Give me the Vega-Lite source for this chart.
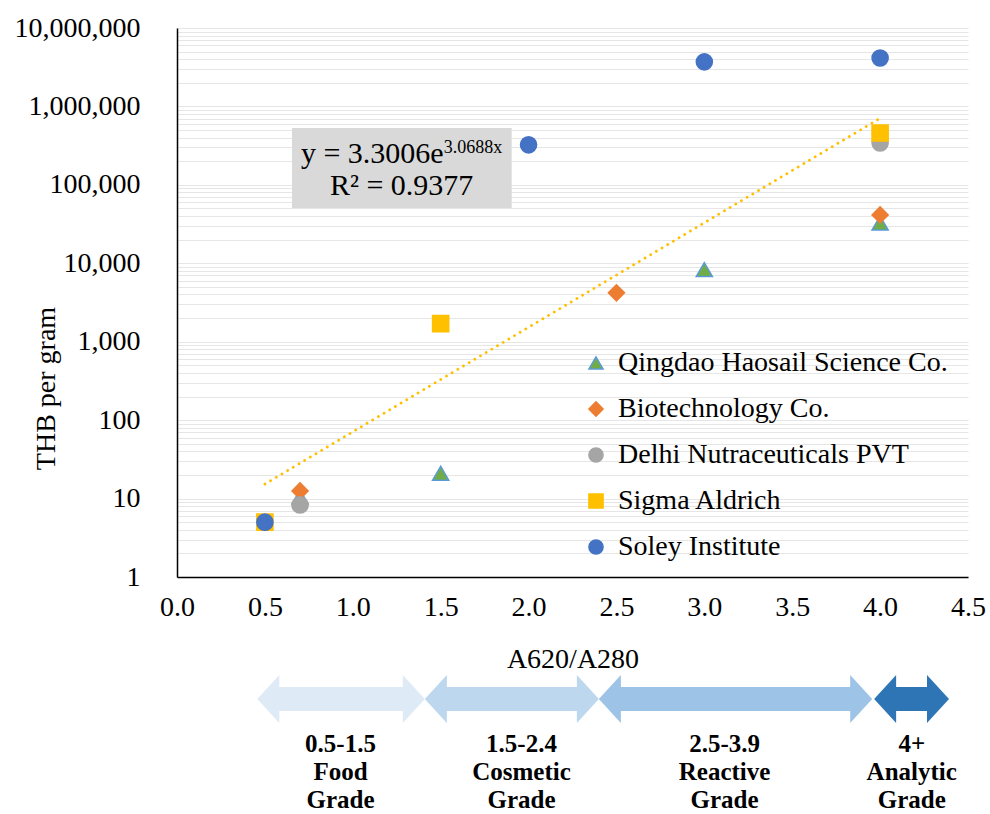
{
  "$schema": "https://vega.github.io/schema/vega-lite/v6.json",
  "padding": {"left": 14, "top": 14, "right": 5, "bottom": 0},
  "spacing": 0,
  "config": {
    "view": {"stroke": null},
    "font": "Liberation Serif",
    "axis": {"labelFont": "Liberation Serif", "titleFont": "Liberation Serif", "labelColor": "#000", "titleColor": "#000", "domainColor": "#000", "titleFontWeight": "normal"},
    "legend": {"labelFont": "Liberation Serif", "labelFontSize": 28, "labelColor": "#000", "symbolSize": 200, "rowPadding": 18, "labelLimit": 600, "padding": 0, "labelOffset": 8, "symbolStrokeWidth": 1.5}
  },
  "vconcat": [
    {
      "width": 791,
      "height": 549,
      "encoding": {
        "x": {"field": "x", "type": "quantitative",
          "scale": {"domain": [0, 4.5], "nice": false, "zero": false},
          "axis": {"title": "A620/A280", "titleFontSize": 28, "titlePadding": 24, "values": [0, 0.5, 1, 1.5, 2, 2.5, 3, 3.5, 4, 4.5], "format": ".1f", "labelFontSize": 28, "labelPadding": 16, "ticks": false, "grid": false, "domainWidth": 1.5, "labelFlush": false, "labelOverlap": false}},
        "y": {"field": "y", "type": "quantitative",
          "scale": {"type": "log", "domain": [1, 10000000], "nice": false},
          "axis": {"title": "THB per gram", "titleFontSize": 28, "titleX": -131, "titleY": 360, "titleBaseline": "middle",
            "values": [1,2,3,4,5,6,7,8,9,10,20,30,40,50,60,70,80,90,100,200,300,400,500,600,700,800,900,1000,2000,3000,4000,5000,6000,7000,8000,9000,10000,20000,30000,40000,50000,60000,70000,80000,90000,100000,200000,300000,400000,500000,600000,700000,800000,900000,1000000,2000000,3000000,4000000,5000000,6000000,7000000,8000000,9000000,10000000],
            "labelExpr": "indexof([1,10,100,1000,10000,100000,1000000,10000000], datum.value) >= 0 ? format(datum.value, ',') : ''",
            "labelFontSize": 28, "labelPadding": 37, "ticks": false, "grid": true, "gridColor": "#e6e6e6", "gridWidth": 1, "domainWidth": 1.5, "labelFlush": false, "labelOverlap": false}}
      },
      "layer": [
        {
          "data": {"values": [{"x": 0.654, "x2": 1.904, "y": 531000, "y2": 50700}]},
          "mark": {"type": "rect", "color": "#d9d9d9"},
          "encoding": {"x2": {"field": "x2"}, "y2": {"field": "y2"}}
        },
        {
          "data": {"values": [{"x": 0.5, "y": 15.3}, {"x": 4.0, "y": 707000}]},
          "mark": {"type": "line", "color": "#FFC000", "strokeWidth": 2.8, "strokeDash": [0.1, 6.5], "strokeCap": "round"},
          "encoding": {}
        },
        {
          "data": {"values": [
            {"series": "Qingdao Haosail Science Co.", "x": 0.7, "y": 10.5},
            {"series": "Qingdao Haosail Science Co.", "x": 1.5, "y": 21},
            {"series": "Qingdao Haosail Science Co.", "x": 3.0, "y": 8300},
            {"series": "Qingdao Haosail Science Co.", "x": 4.0, "y": 32500},
            {"series": "Biotechnology Co.", "x": 0.7, "y": 12.5},
            {"series": "Biotechnology Co.", "x": 2.5, "y": 4200},
            {"series": "Biotechnology Co.", "x": 4.0, "y": 41300},
            {"series": "Delhi Nutraceuticals PVT", "x": 0.7, "y": 8.3},
            {"series": "Delhi Nutraceuticals PVT", "x": 4.0, "y": 342000},
            {"series": "Sigma Aldrich", "x": 0.5, "y": 5},
            {"series": "Sigma Aldrich", "x": 1.5, "y": 1700},
            {"series": "Sigma Aldrich", "x": 4.0, "y": 458000},
            {"series": "Soley Institute", "x": 0.5, "y": 5},
            {"series": "Soley Institute", "x": 2.0, "y": 324000},
            {"series": "Soley Institute", "x": 3.0, "y": 3700000},
            {"series": "Soley Institute", "x": 4.0, "y": 4140000}
          ]},
          "mark": {"type": "point", "filled": true, "opacity": 1, "size": 260, "strokeWidth": 1.5},
          "encoding": {
            "fill": {"field": "series", "type": "nominal",
              "scale": {"domain": ["Qingdao Haosail Science Co.", "Biotechnology Co.", "Delhi Nutraceuticals PVT", "Sigma Aldrich", "Soley Institute"], "range": ["#70AD47", "#ED7D31", "#A5A5A5", "#FFC000", "#4472C4"]},
              "legend": {"title": null, "orient": "none", "legendX": 405, "legendY": 321}},
            "stroke": {"field": "series", "type": "nominal",
              "scale": {"domain": ["Qingdao Haosail Science Co.", "Biotechnology Co.", "Delhi Nutraceuticals PVT", "Sigma Aldrich", "Soley Institute"], "range": ["#5B9BD5", "#ED7D31", "#A5A5A5", "#FFC000", "#4472C4"]},
              "legend": {"title": null, "orient": "none", "legendX": 405, "legendY": 321}},
            "shape": {"field": "series", "type": "nominal",
              "scale": {"domain": ["Qingdao Haosail Science Co.", "Biotechnology Co.", "Delhi Nutraceuticals PVT", "Sigma Aldrich", "Soley Institute"], "range": ["triangle-up", "diamond", "circle", "square", "circle"]},
              "legend": {"title": null, "orient": "none", "legendX": 405, "legendY": 321}}
          }
        },
        {
          "data": {"values": [{"x": 1.517, "y": 190000, "t": "y = 3.3006e"}]},
          "mark": {"type": "text", "fontSize": 30, "align": "right", "baseline": "alphabetic", "color": "#000", "font": "Liberation Serif"},
          "encoding": {"text": {"field": "t"}}
        },
        {
          "data": {"values": [{"x": 1.517, "y": 190000, "t": "3.0688x"}]},
          "mark": {"type": "text", "fontSize": 18, "align": "left", "baseline": "alphabetic", "dy": -10, "color": "#000", "font": "Liberation Serif"},
          "encoding": {"text": {"field": "t"}}
        },
        {
          "data": {"values": [{"x": 1.278, "y": 74300, "t": "R² = 0.9377"}]},
          "mark": {"type": "text", "fontSize": 30, "align": "center", "baseline": "alphabetic", "color": "#000", "font": "Liberation Serif"},
          "encoding": {"text": {"field": "t"}}
        }
      ]
    },
    {
      "width": 791,
      "height": 130,
      "data": {"values": [
        {"grade": "Food", "start": 0.457, "end": 1.41, "mid": 0.93, "label": "0.5-1.5\nFood\nGrade"},
        {"grade": "Cosmetic", "start": 1.41, "end": 2.40, "mid": 1.96, "label": "1.5-2.4\nCosmetic\nGrade"},
        {"grade": "Reactive", "start": 2.40, "end": 3.955, "mid": 3.115, "label": "2.5-3.9\nReactive\nGrade"},
        {"grade": "Analytic", "start": 3.966, "end": 4.392, "mid": 4.18, "label": "4+\nAnalytic\nGrade"}
      ]},
      "layer": [
        {
          "mark": {"type": "rule", "strokeWidth": 24, "strokeCap": "butt", "xOffset": 20, "x2Offset": -20},
          "encoding": {
            "x": {"field": "start", "type": "quantitative", "scale": {"domain": [0, 4.5], "nice": false, "zero": false}, "axis": null},
            "x2": {"field": "end"},
            "y": {"datum": "arrow", "type": "nominal", "scale": {"type": "point", "domain": ["arrow", "label"], "range": [26, 71], "padding": 0}, "axis": null},
            "color": {"field": "grade", "type": "nominal", "scale": {"domain": ["Food", "Cosmetic", "Reactive", "Analytic"], "range": ["#DEEBF7", "#BDD7EE", "#9DC3E6", "#2E75B6"]}, "legend": null}
          }
        },
        {
          "mark": {"type": "point", "filled": true, "opacity": 1, "size": 2304, "shape": "M0,0L0.917,-1L0.917,1Z", "strokeWidth": 0},
          "encoding": {
            "x": {"field": "start", "type": "quantitative", "scale": {"domain": [0, 4.5], "nice": false, "zero": false}, "axis": null},
            "y": {"datum": "arrow", "type": "nominal", "scale": {"type": "point", "domain": ["arrow", "label"], "range": [26, 71], "padding": 0}, "axis": null},
            "color": {"field": "grade", "type": "nominal", "scale": {"domain": ["Food", "Cosmetic", "Reactive", "Analytic"], "range": ["#DEEBF7", "#BDD7EE", "#9DC3E6", "#2E75B6"]}, "legend": null}
          }
        },
        {
          "mark": {"type": "point", "filled": true, "opacity": 1, "size": 2304, "shape": "M0,0L-0.917,-1L-0.917,1Z", "strokeWidth": 0},
          "encoding": {
            "x": {"field": "end", "type": "quantitative", "scale": {"domain": [0, 4.5], "nice": false, "zero": false}, "axis": null},
            "y": {"datum": "arrow", "type": "nominal", "scale": {"type": "point", "domain": ["arrow", "label"], "range": [26, 71], "padding": 0}, "axis": null},
            "color": {"field": "grade", "type": "nominal", "scale": {"domain": ["Food", "Cosmetic", "Reactive", "Analytic"], "range": ["#DEEBF7", "#BDD7EE", "#9DC3E6", "#2E75B6"]}, "legend": null}
          }
        },
        {
          "mark": {"type": "text", "fontSize": 25, "fontWeight": "bold", "lineHeight": 28, "lineBreak": "\n", "baseline": "middle", "align": "center", "color": "#000", "font": "Liberation Serif"},
          "encoding": {
            "x": {"field": "mid", "type": "quantitative", "scale": {"domain": [0, 4.5], "nice": false, "zero": false}, "axis": null},
            "y": {"datum": "label", "type": "nominal", "scale": {"type": "point", "domain": ["arrow", "label"], "range": [26, 71], "padding": 0}, "axis": null},
            "text": {"field": "label"}
          }
        }
      ]
    }
  ]
}
